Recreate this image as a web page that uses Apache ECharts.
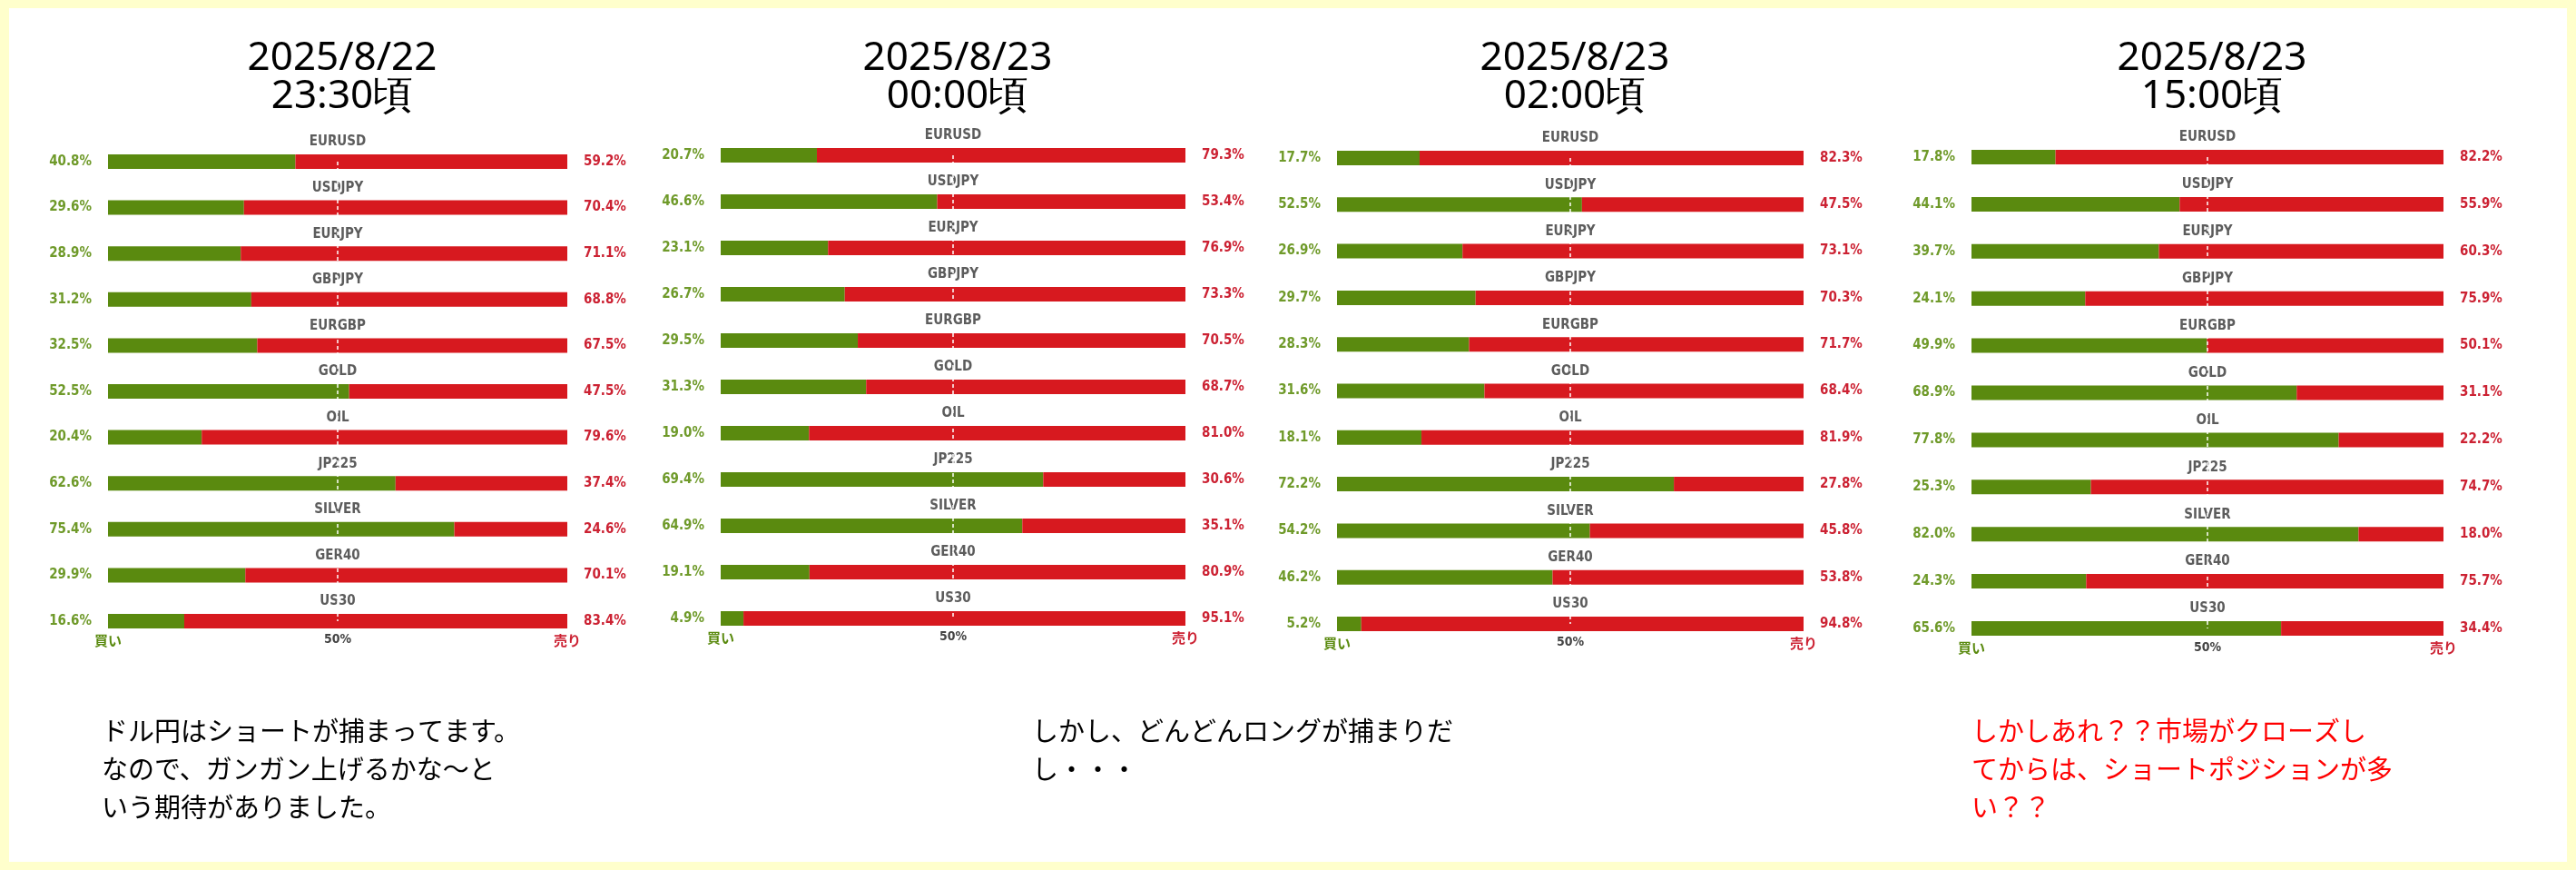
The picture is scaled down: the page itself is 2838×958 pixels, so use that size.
<!DOCTYPE html>
<html><head><meta charset="utf-8">
<script src="https://cdn.jsdelivr.net/npm/echarts@6/dist/echarts.min.js"></script>
<style>html,body{margin:0;padding:0;background:#ffffcc;}#c{position:absolute;left:10px;top:9px;width:2818px;height:940px;background:#fff;}</style>
</head><body><div id="c"></div>
<script>
const categories = ['EURUSD','USDJPY','EURJPY','GBPJPY','EURGBP','GOLD','OIL','JP225','SILVER','GER40','US30'];
const titles = ['2025/8/22\n23:30頃','2025/8/23\n00:00頃','2025/8/23\n02:00頃','2025/8/23\n15:00頃'];
const buy1 = [40.8,29.6,28.9,31.2,32.5,52.5,20.4,62.6,75.4,29.9,16.6];
const sell1 = [59.2,70.4,71.1,68.8,67.5,47.5,79.6,37.4,24.6,70.1,83.4];
const buy2 = [20.7,46.6,23.1,26.7,29.5,31.3,19.0,69.4,64.9,19.1,4.9];
const sell2 = [79.3,53.4,76.9,73.3,70.5,68.7,81.0,30.6,35.1,80.9,95.1];
const buy3 = [17.7,52.5,26.9,29.7,28.3,31.6,18.1,72.2,54.2,46.2,5.2];
const sell3 = [82.3,47.5,73.1,70.3,71.7,68.4,81.9,27.8,45.8,53.8,94.8];
const buy4 = [17.8,44.1,39.7,24.1,49.9,68.9,77.8,25.3,82.0,24.3,65.6];
const sell4 = [82.2,55.9,60.3,75.9,50.1,31.1,22.2,74.7,18.0,75.7,34.4];
const axisTicks = ['買い','50%','売り'];
const comments = [
  {text:'ドル円はショートが捕まってます。\nなので、ガンガン上げるかな～と\nいう期待がありました。', color:'#000'},
  {text:'しかし、どんどんロングが捕まりだ\nし・・・', color:'#000'},
  null,
  {text:'しかしあれ？？市場がクローズし\nてからは、ショートポジションが多\nい？？', color:'#ff0000'}
];
const buys=[buy1,buy2,buy3,buy4], sells=[sell1,sell2,sell3,sell4];
const geo = [[119,625,178,684],[794,1306,171,681],[1473,1987,174,687],[2172,2692,173,692]];
const OX=10, OY=9;
const NARROW='"DejaVu Sans Condensed", "Liberation Sans Narrow", sans-serif';
const grid=[],xAxis=[],yAxis=[],series=[],title=[],graphic=[];
geo.forEach((g,i)=>{
  const band=(g[3]-g[2])/10;
  grid.push({left:g[0]-OX,width:g[1]-g[0],top:g[2]-band/2-OY,height:band*11});
  xAxis.push({gridIndex:i,type:'value',min:0,max:100,interval:50,
    axisLine:{show:false},axisTick:{show:false},splitLine:{show:false},
    axisLabel:{margin:-12,formatter:v=>v===0?'{b|'+axisTicks[0]+'}':v===50?'{m|'+axisTicks[1]+'}':'{s|'+axisTicks[2]+'}',
      rich:{b:{color:'#5a8a0f',fontSize:15,fontWeight:'bold',fontFamily:'Noto Sans CJK JP'},
            m:{color:'#444',fontSize:14,fontWeight:'bold',fontFamily:NARROW},
            s:{color:'#cc2233',fontSize:15,fontWeight:'bold',fontFamily:'Noto Sans CJK JP'}}}});
  yAxis.push({gridIndex:i,type:'category',data:categories,inverse:true,show:false});
  series.push({type:'bar',xAxisIndex:i,yAxisIndex:i,stack:'s'+i,data:buys[i],barWidth:16,
    itemStyle:{color:'#5a8a0f'},
    label:{show:true,position:'left',distance:18,formatter:p=>p.value.toFixed(1)+'%',color:'#6f9a2a',fontSize:15,fontWeight:'bold',fontFamily:NARROW}});
  series.push({type:'bar',xAxisIndex:i,yAxisIndex:i,stack:'s'+i,data:sells[i],barWidth:16,
    itemStyle:{color:'#d7191f'},
    label:{show:true,position:'right',distance:18,formatter:p=>p.value.toFixed(1)+'%',color:'#cc2233',fontSize:15,fontWeight:'bold',fontFamily:NARROW},
    markLine:{silent:true,symbol:'none',label:{show:false},lineStyle:{color:'#fff',type:[4,3],width:1.5},
      data:[[{coord:[50,categories[0]]},{coord:[50,categories[categories.length-1]]}]],z:10}});
  series.push({type:'scatter',xAxisIndex:i,yAxisIndex:i,symbolSize:0,data:categories.map(c=>[50,c]),
    label:{show:true,position:'top',distance:14,formatter:p=>p.value[1],color:'#333',fontSize:15,fontWeight:'bold',fontFamily:NARROW}});
  title.push({text:titles[i],left:(g[0]+g[1])/2-OX,top:38-OY,textAlign:'center',
    textStyle:{fontSize:44,fontWeight:'normal',color:'#000',fontFamily:'Noto Sans',lineHeight:42}});
});
const cx=[112,1137,null,2172];
comments.forEach((c,i)=>{ if(!c) return;
  graphic.push({type:'text',left:cx[i]-OX,top:784-OY,style:{text:c.text,fill:c.color,fontSize:29,lineHeight:42,fontFamily:'Noto Sans CJK JP'}});
});
const chart=echarts.init(document.getElementById('c'));
chart.setOption({animation:false,title,grid,xAxis,yAxis,series,graphic});
</script></body></html>
